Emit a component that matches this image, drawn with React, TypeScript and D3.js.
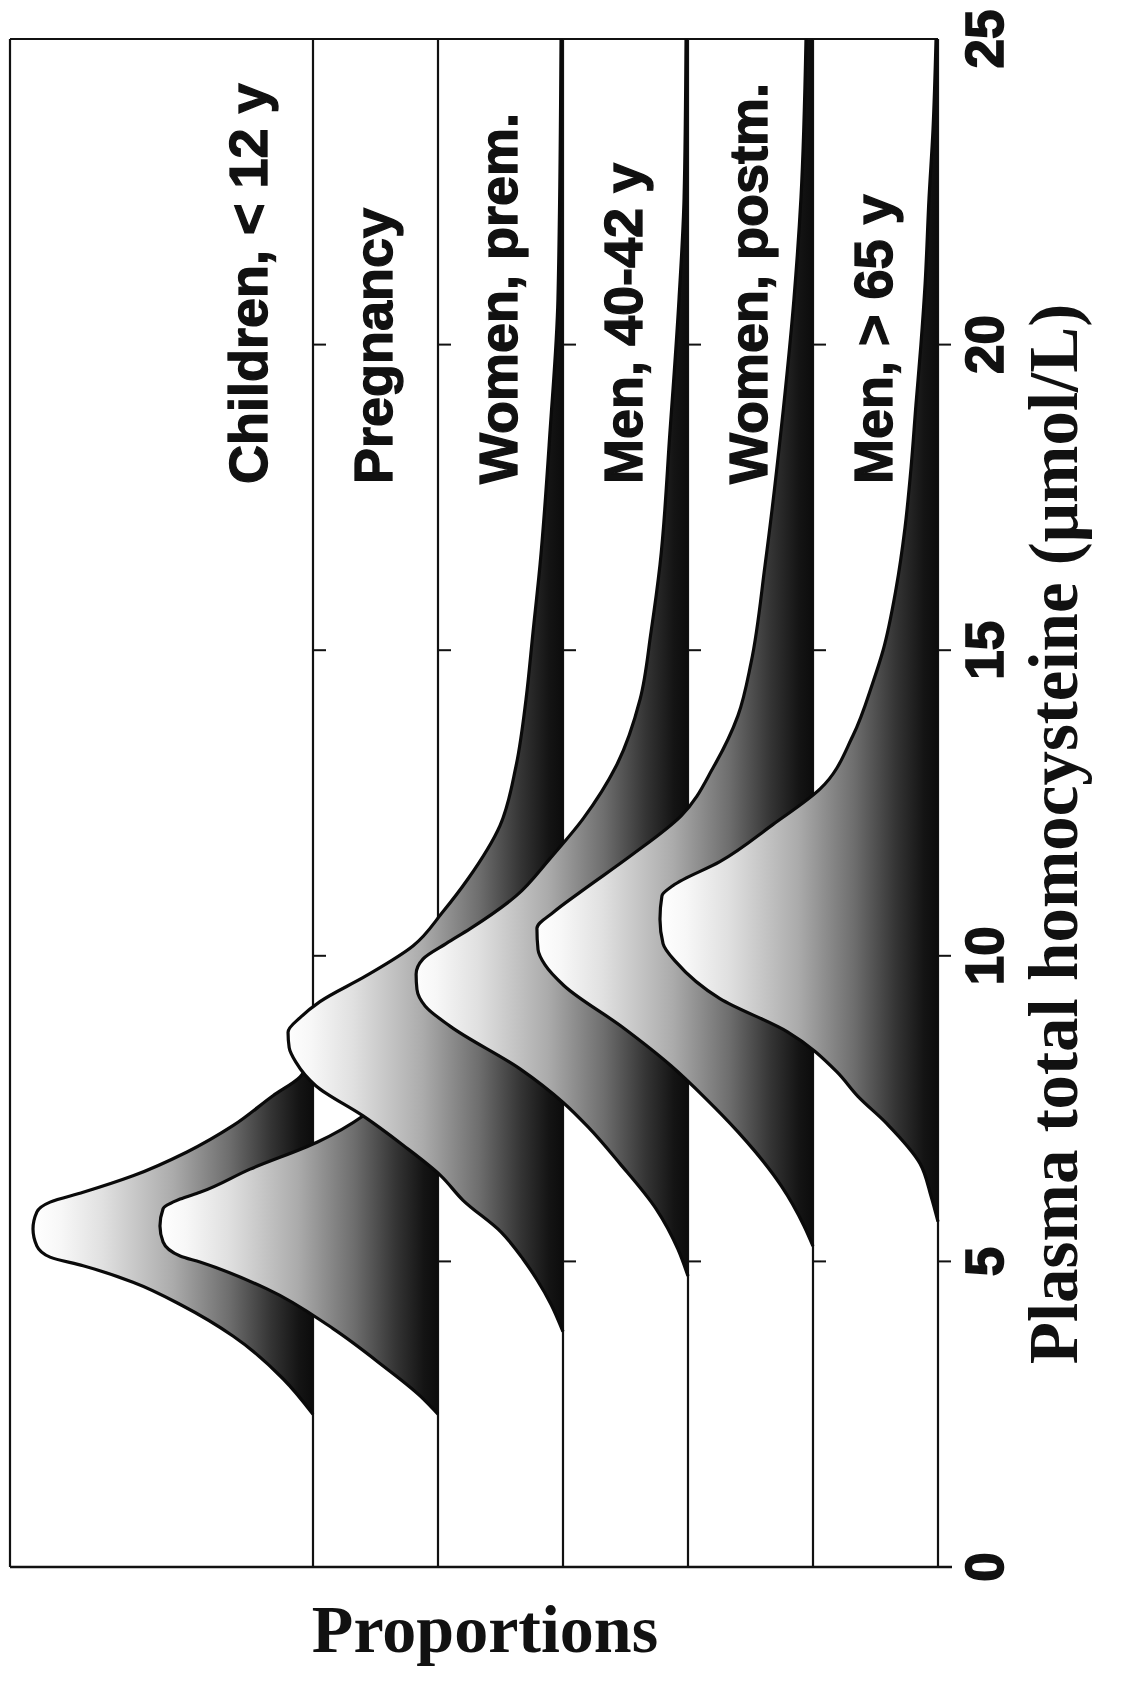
import React from 'react';
import * as d3 from 'd3';

// Categories (series, back to front)
const seriesNames = [
  'Children, < 12 y',
  'Pregnancy',
  'Women, prem.',
  'Men, 40-42 y',
  'Women, postm.',
  'Men, > 65 y',
];

// [plasma tHcy (µmol/L), relative proportion]
const children: [number, number][] = [
  [2.5, 0], [3.08, 0.107], [3.78, 0.286], [4.27, 0.464], [4.66, 0.643], [4.93, 0.821],
  [5.07, 0.939], [5.25, 0.986], [5.53, 1.0], [5.81, 0.986], [5.97, 0.939], [6.13, 0.821],
  [6.4, 0.643], [6.79, 0.45], [7.22, 0.286], [7.71, 0.143], [8.02, 0.046], [8.3, 0.011], [8.45, 0],
];
const pregnancy: [number, number][] = [
  [2.5, 0], [2.8, 0.064], [3.29, 0.196], [3.9, 0.375], [4.55, 0.611], [4.99, 0.85],
  [5.09, 0.921], [5.32, 0.982], [5.58, 0.993], [5.86, 0.982], [6.02, 0.921], [6.13, 0.85],
  [6.51, 0.671], [6.95, 0.432], [7.38, 0.268], [8.0, 0.143], [8.6, 0.064], [9.2, 0.021], [10, 0],
];
const womenPrem: [number, number][] = [
  [3.85, 0], [4.3, 0.043], [4.7, 0.093], [5.04, 0.143], [5.48, 0.221], [6.0, 0.357],
  [6.4, 0.436], [6.9, 0.571], [7.38, 0.714], [7.87, 0.882], [8.26, 0.954], [8.5, 0.978],
  [8.75, 0.982], [9.0, 0.936], [9.25, 0.868], [9.67, 0.704], [10.16, 0.536], [10.72, 0.429],
  [11.26, 0.339], [12.13, 0.225], [13.1, 0.168], [14.2, 0.132], [15.3, 0.107], [16.4, 0.082],
  [18.6, 0.046], [20.75, 0.018], [25, 0.007],
];
const men4042: [number, number][] = [
  [4.76, 0], [5.2, 0.036], [5.86, 0.114], [6.6, 0.243], [7.2, 0.357], [7.6, 0.446],
  [8.15, 0.6], [8.85, 0.85], [9.18, 0.939], [9.45, 0.968], [9.7, 0.971], [9.95, 0.946],
  [10.2, 0.864], [10.44, 0.779], [10.98, 0.614], [11.59, 0.493], [12.24, 0.375], [13.1, 0.257],
  [14.2, 0.171], [15.3, 0.132], [16.4, 0.1], [18.6, 0.064], [20.75, 0.032], [22.4, 0.014], [25, 0.007],
];
const womenPostm: [number, number][] = [
  [5.25, 0], [5.58, 0.032], [6.24, 0.114], [6.8, 0.207], [7.12, 0.268], [7.66, 0.382],
  [8.2, 0.507], [8.85, 0.686], [9.51, 0.889], [9.85, 0.957], [10.1, 0.982], [10.45, 0.986],
  [10.72, 0.925], [11.05, 0.829], [11.64, 0.65], [12.29, 0.471], [13.1, 0.354], [13.93, 0.268],
  [14.8, 0.221], [16.4, 0.171], [18.6, 0.114], [20.75, 0.068], [22.4, 0.043], [25, 0.025],
];
const men65: [number, number][] = [
  [5.65, 0], [6.07, 0.025], [6.6, 0.064], [7.25, 0.182], [7.7, 0.286], [8.1, 0.361],
  [8.76, 0.539], [9.3, 0.779], [9.9, 0.936], [10.2, 0.982], [10.6, 0.993], [10.98, 0.986],
  [11.15, 0.946], [11.54, 0.779], [12.15, 0.589], [12.73, 0.421], [13.6, 0.304], [14.48, 0.232],
  [15.0, 0.196], [16, 0.15], [17, 0.118], [18, 0.096], [19, 0.079], [20, 0.061], [21, 0.046],
  [22.4, 0.032], [23.5, 0.018], [25, 0.007],
];

const seriesData = [children, pregnancy, womenPrem, men4042, womenPostm, men65];

const axisTicks = [0, 5, 10, 15, 20, 25];
const innerTicks = [5, 10, 15, 20];
const axisTitle = 'Plasma total homocysteine (\u03BCmol/L)';
const depthTitle = 'Proportions';

const gradStops: [number, string][] = [
  [0, '#ffffff'], [0.1, '#f7f7f7'], [0.25, '#e0e0e0'], [0.5, '#ababab'],
  [0.7, '#6e6e6e'], [0.85, '#343434'], [0.95, '#141414'], [1, '#0c0c0c'],
];

export default function App() {
  const W = 1127;
  const H = 1690;
  const y = d3.scaleLinear().domain([0, 25]).range([1567, 39]);
  const base = d3.scalePoint<string>().domain(seriesNames).range([313, 938]);
  const p = d3.scaleLinear().domain([0, 1]).range([0, 280]);
  const frameLeft = 10;
  const lastBase = base(seriesNames[seriesNames.length - 1]) as number;
  const sans = '"Liberation Sans", Arial, sans-serif';
  const serif = '"Liberation Serif", "Times New Roman", serif';

  return (
    <svg width={W} height={H} style={{ position: 'absolute', left: 0, top: 0 }}>
      <defs>
        {seriesNames.map((s, i) => {
          const bx = base(s) as number;
          return (
            <linearGradient key={i} id={`g${i}`} gradientUnits="userSpaceOnUse"
              x1={bx - p(1)} x2={bx} y1={0} y2={0}>
              {gradStops.map(([o, c], k) => <stop key={k} offset={o} stopColor={c} />)}
            </linearGradient>
          );
        })}
      </defs>
      <rect x={0} y={0} width={W} height={H} fill="#ffffff" />

      {/* frame */}
      <line x1={frameLeft} x2={lastBase} y1={y(25)} y2={y(25)} stroke="#111" strokeWidth={2.2} />
      <line x1={frameLeft} x2={lastBase + 14} y1={y(0)} y2={y(0)} stroke="#111" strokeWidth={2.4} />
      <line x1={frameLeft} x2={frameLeft} y1={y(25)} y2={y(0)} stroke="#111" strokeWidth={2.2} />

      {/* series baselines and ticks */}
      {seriesNames.map((s, i) => {
        const bx = base(s) as number;
        return (
          <g key={i}>
            <line x1={bx} x2={bx} y1={y(25)} y2={y(0)} stroke="#111" strokeWidth={2.2} />
            {innerTicks.map((t) => (
              <line key={t} x1={bx} x2={bx + 13} y1={y(t)} y2={y(t)} stroke="#111" strokeWidth={2} />
            ))}
          </g>
        );
      })}

      {/* ribbons */}
      {seriesData.map((data, i) => {
        const bx = base(seriesNames[i]) as number;
        const area = d3.area<[number, number]>()
          .y((d) => y(d[0]))
          .x0(bx)
          .x1((d) => bx - p(d[1]))
          .curve(d3.curveMonotoneY);
        const line = d3.line<[number, number]>()
          .x((d) => bx - p(d[1]))
          .y((d) => y(d[0]))
          .curve(d3.curveMonotoneY);
        return (
          <g key={i}>
            <path d={area(data) || ''} fill={`url(#g${i})`} stroke="none" />
            <path d={line(data) || ''} fill="none" stroke="#0a0a0a" strokeWidth={3.2} strokeLinejoin="round" />
          </g>
        );
      })}

      {/* series labels */}
      {seriesNames.map((s, i) => {
        const bx = base(s) as number;
        return (
          <text key={i} transform={`translate(${bx - 46},484) rotate(-90)`}
            fontFamily={sans} fontWeight="bold" fontSize={54} fill="#111"
            stroke="#111" strokeWidth={1.3} textAnchor="start">
            {s}
          </text>
        );
      })}

      {/* value axis tick labels */}
      {axisTicks.map((t) => (
        <text key={t} transform={`translate(1003,${y(t)}) rotate(-90)`}
          fontFamily={sans} fontWeight="bold" fontSize={53} fill="#111"
          stroke="#111" strokeWidth={1.6} textAnchor="middle">
          {t}
        </text>
      ))}

      {/* titles */}
      <text transform={`translate(1077,834) rotate(-90)`} fontFamily={serif} fontWeight="bold"
        fontSize={69} fill="#111" textAnchor="middle">
        {axisTitle}
      </text>
      <text x={485} y={1652} fontFamily={serif} fontWeight="bold" fontSize={68} fill="#111"
        textAnchor="middle">
        {depthTitle}
      </text>
    </svg>
  );
}
